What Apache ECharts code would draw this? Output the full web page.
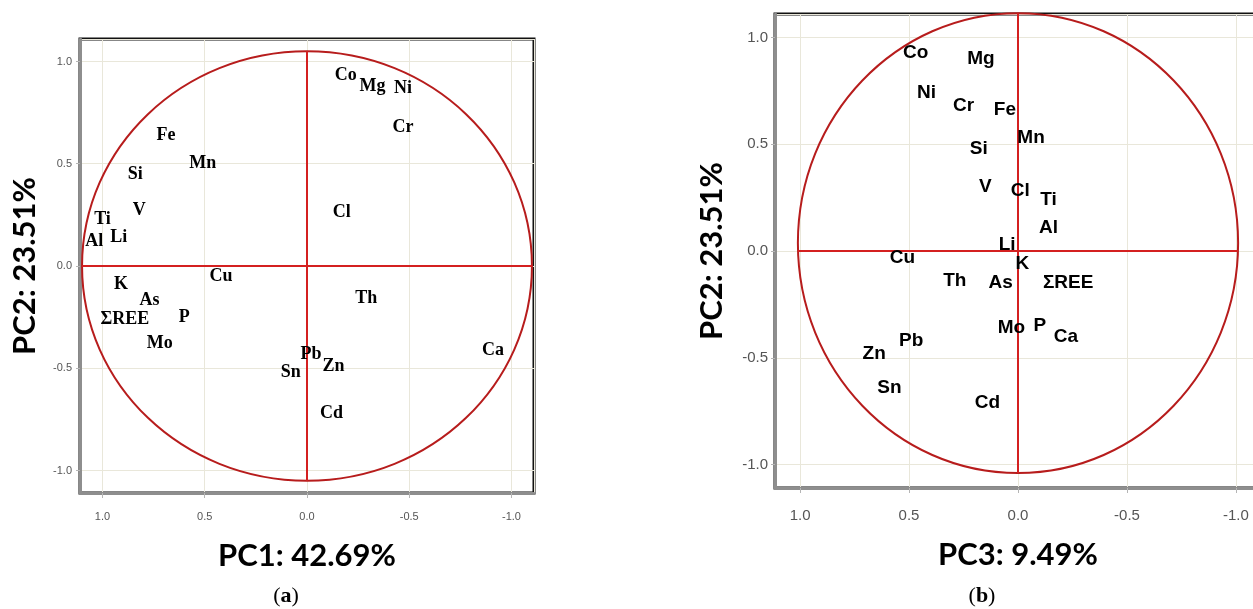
<!DOCTYPE html>
<html>
<head>
<meta charset="utf-8">
<script src="https://cdn.jsdelivr.net/npm/echarts@6/dist/echarts.min.js"></script>
<style>
  html, body { margin: 0; padding: 0; overflow: hidden; background: #fff; }
  #main { width: 1280px; height: 609px; }
</style>
</head>
<body>
<div id="main"></div>
<script>
// (a) loadings: PC1 (x) against PC2 (y)
const elementsA = ['Co', 'Mg', 'Ni', 'Cr', 'Cl', 'Th', 'Ca', 'Pb', 'Zn', 'Sn', 'Cd', 'Fe',
                   'Mn', 'Si', 'V', 'Ti', 'Al', 'Li', 'Cu', 'K', 'As', 'ΣREE', 'P', 'Mo'];
const pc1A = [-0.19, -0.32, -0.47, -0.47, -0.17, -0.29, -0.91, -0.02, -0.13, 0.08, -0.12, 0.69,
              0.51, 0.84, 0.82, 1.00, 1.04, 0.92, 0.42, 0.91, 0.77, 0.89, 0.60, 0.72];
const pc2A = [0.93, 0.88, 0.87, 0.68, 0.26, -0.16, -0.41, -0.43, -0.49, -0.52, -0.72, 0.64,
              0.50, 0.45, 0.27, 0.23, 0.12, 0.14, -0.05, -0.09, -0.17, -0.26, -0.25, -0.38];

// (b) loadings: PC3 (x) against PC2 (y)
const elementsB = ['Co', 'Mg', 'Ni', 'Cr', 'Fe', 'Mn', 'Si', 'V', 'Cl', 'Ti', 'Al', 'Li',
                   'K', 'As', 'ΣREE', 'Mo', 'P', 'Ca', 'Cd', 'Cu', 'Th', 'Pb', 'Zn', 'Sn'];
const pc3B = [0.47, 0.17, 0.42, 0.25, 0.06, -0.06, 0.18, 0.15, -0.01, -0.14, -0.14, 0.05,
              -0.02, 0.08, -0.23, 0.03, -0.10, -0.22, 0.14, 0.53, 0.29, 0.49, 0.66, 0.59];
const pc2B = [0.93, 0.90, 0.74, 0.68, 0.66, 0.53, 0.48, 0.30, 0.28, 0.24, 0.11, 0.03,
              -0.06, -0.15, -0.15, -0.36, -0.35, -0.40, -0.71, -0.03, -0.14, -0.42, -0.48, -0.64];

// Axis titles and panel captions
const titlesA = { x: 'PC1: 42.69%', y: 'PC2: 23.51%', tag: 'a' };
const titlesB = { x: 'PC3: 9.49%', y: 'PC2: 23.51%', tag: 'b' };

// Reference ellipse (unit-circle outline) in data units
const ringA = { cx: 0, cy: 0, rx: 1.10, ry: 1.05 };
const ringB = { cx: 0, cy: 0.037, rx: 1.01, ry: 1.077 };

const chart = echarts.init(document.getElementById('main'));

function points(names, xs, ys) {
  return names.map((n, i) => [xs[i], ys[i], n]);
}

function makeX(idx, title, labelSize, gap, labelMargin, lim) {
  return {
    type: 'value', gridIndex: idx, inverse: true, min: -lim, max: lim,
    name: title, nameLocation: 'middle', nameGap: gap,
    nameTextStyle: { fontFamily: 'Lato', fontWeight: 'bold', fontSize: 31, color: '#000' },
    axisLine: { onZero: false, lineStyle: { color: '#8e8e8e', width: 3 } },
    axisTick: { show: true, length: 5, lineStyle: { color: '#b5b5b5' } },
    axisLabel: {
      showMinLabel: false, showMaxLabel: false, margin: labelMargin,
      fontFamily: 'Liberation Sans', fontSize: labelSize, color: '#555',
      formatter: v => v.toFixed(1)
    },
    splitLine: { show: true, lineStyle: { color: '#e9e7da', width: 1 } }
  };
}

function makeY(idx, title, labelSize, gap, labelMargin) {
  return {
    type: 'value', gridIndex: idx, min: -1.11, max: 1.11,
    name: title, nameLocation: 'middle', nameGap: gap,
    nameTextStyle: { fontFamily: 'Lato', fontWeight: 'bold', fontSize: 31, color: '#000' },
    axisLine: { onZero: false, lineStyle: { color: '#8e8e8e', width: 3 } },
    axisTick: { show: true, length: 4, lineStyle: { color: '#b5b5b5' } },
    axisLabel: {
      showMinLabel: false, showMaxLabel: false, margin: labelMargin,
      fontFamily: 'Liberation Sans', fontSize: labelSize, color: '#555',
      formatter: v => v.toFixed(1)
    },
    splitLine: { show: true, lineStyle: { color: '#e9e7da', width: 1 } }
  };
}

// Ellipse with its two red diameters, placed through the axis scales
function ringSeries(ring, idx) {
  return {
    type: 'custom', xAxisIndex: idx, yAxisIndex: idx, silent: true, z: 3,
    data: [[ring.cx, ring.cy]],
    renderItem: function (params, api) {
      const c = api.coord([ring.cx, ring.cy]);
      const rxPx = Math.abs(api.coord([ring.cx + ring.rx, ring.cy])[0] - c[0]);
      const ryPx = Math.abs(api.coord([ring.cx, ring.cy + ring.ry])[1] - c[1]);
      const half = ring.rx * Math.sqrt(1 - Math.pow(ring.cy / ring.ry, 2));
      const h0 = api.coord([ring.cx + half, 0]);
      const h1 = api.coord([ring.cx - half, 0]);
      const v0 = api.coord([ring.cx, ring.cy + ring.ry]);
      const v1 = api.coord([ring.cx, ring.cy - ring.ry]);
      return {
        type: 'group',
        children: [
          { type: 'ellipse', shape: { cx: c[0], cy: c[1], rx: rxPx, ry: ryPx },
            style: { fill: 'transparent', stroke: '#b71c1c', lineWidth: 2 } },
          { type: 'line', shape: { x1: h0[0], y1: h0[1], x2: h1[0], y2: h1[1] },
            style: { stroke: '#d42020', lineWidth: 2 } },
          { type: 'line', shape: { x1: v0[0], y1: v0[1], x2: v1[0], y2: v1[1] },
            style: { stroke: '#d42020', lineWidth: 2 } }
        ]
      };
    }
  };
}

// Element names written at their loading positions (no marker drawn)
function labelSeries(data, idx, font, size) {
  return {
    type: 'scatter', xAxisIndex: idx, yAxisIndex: idx, z: 5,
    symbolSize: 1, itemStyle: { color: 'rgba(0,0,0,0)', opacity: 1 },
    data: data,
    label: {
      show: true, position: 'inside', formatter: p => p.data[2],
      fontFamily: font, fontWeight: 'bold', fontSize: size, color: '#000'
    },
    emphasis: { disabled: true }
  };
}

function caption(tag, x, y) {
  return {
    type: 'text', x: x, y: y, z: 10,
    style: {
      text: '{p|(}{b|' + tag + '}{p|)}',
      align: 'center', verticalAlign: 'middle',
      rich: {
        p: { fontFamily: 'Liberation Serif', fontSize: 22, color: '#000' },
        b: { fontFamily: 'Liberation Serif', fontSize: 22, fontWeight: 'bold', color: '#000' }
      }
    }
  };
}

chart.setOption({
  animation: false,
  backgroundColor: '#fff',
  grid: [
    { left: 80, top: 39, width: 454, height: 454, show: true, borderColor: '#111', borderWidth: 3 },
    { left: 775, top: 14, width: 486, height: 474, show: true, borderColor: '#111', borderWidth: 3 }
  ],
  xAxis: [
    makeX(0, titlesA.x, 11, 47, 18, 1.11),
    makeX(1, titlesB.x, 15, 51, 20, 1.115)
  ],
  yAxis: [
    makeY(0, titlesA.y, 11, 40, 8),
    makeY(1, titlesB.y, 15, 48, 7)
  ],
  series: [
    ringSeries(ringA, 0),
    ringSeries(ringB, 1),
    labelSeries(points(elementsA, pc1A, pc2A), 0, 'Liberation Serif', 18),
    labelSeries(points(elementsB, pc3B, pc2B), 1, 'Liberation Sans', 19)
  ],
  graphic: [
    caption(titlesA.tag, 286, 596),
    caption(titlesB.tag, 982, 596)
  ]
});
</script>
</body>
</html>
